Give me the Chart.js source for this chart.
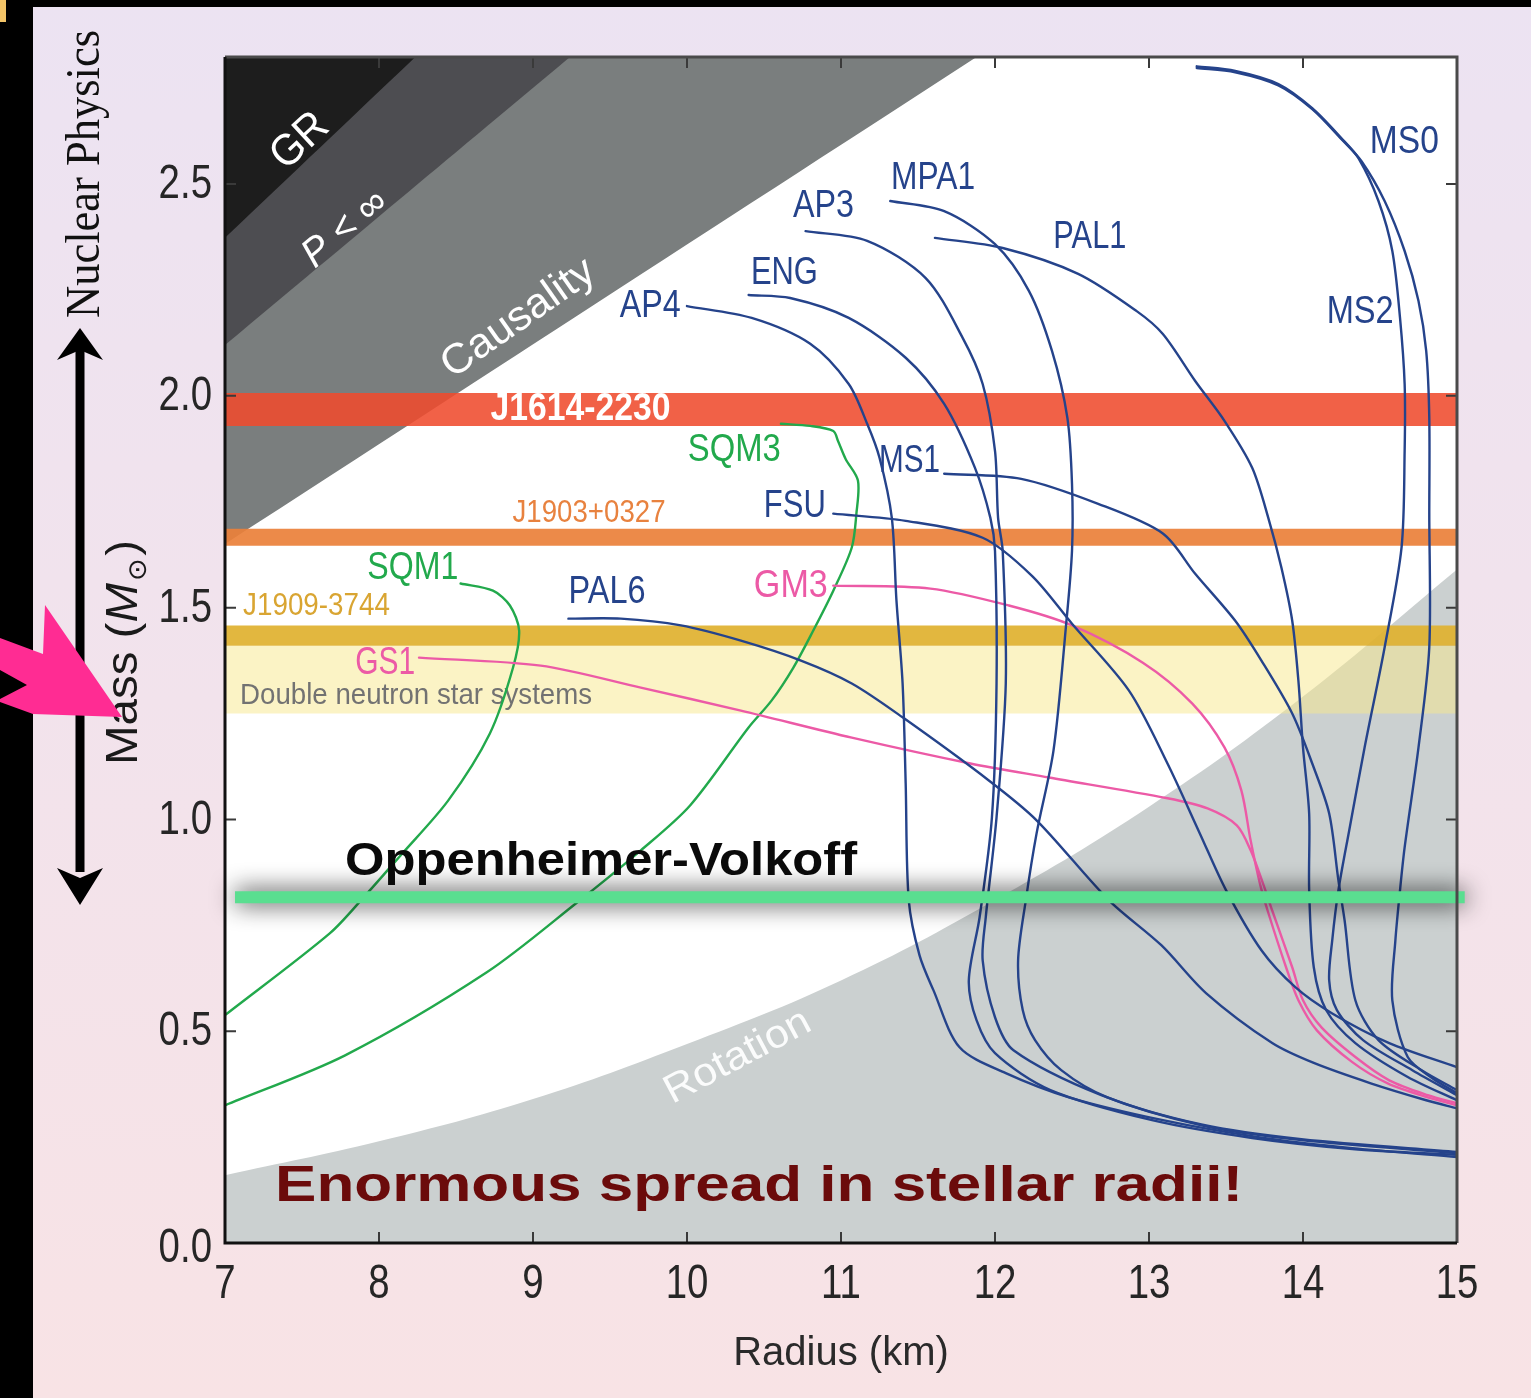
<!DOCTYPE html>
<html><head><meta charset="utf-8">
<script src="https://cdn.jsdelivr.net/npm/chart.js@4.4.1/dist/chart.umd.min.js"></script>
<style>html,body{margin:0;padding:0;background:#f2e3ec;overflow:hidden}canvas{display:block}</style>
</head><body>
<canvas id="c" width="1531" height="1398"></canvas>
<script>
// ---------- axis ticks ----------
const xTicks = [7, 8, 9, 10, 11, 12, 13, 14, 15];
const yTicks = [0, 0.5, 1.0, 1.5, 2.0, 2.5];

// ---------- constraint regions (radius km, mass Msun) ----------
const grLimit = [[7, 2.373], [8.236, 2.8]];
const pressureLimit = [[7, 2.12], [9.24, 2.8]];
const causalityLimit = [[7, 1.65], [11.88, 2.8]];
const rotationR = [7, 8, 9, 10, 11, 12, 13, 14, 15];
const rotationM = [0.16, 0.24, 0.34, 0.47, 0.62, 0.81, 1.03, 1.29, 1.59];

// ---------- pulsar mass bands ----------
const bandNames = ['J1614-2230', 'J1903+0327', 'J1909-3744', 'Double neutron star systems'];
const bandLow  = [1.929, 1.646, 1.410, 1.250];
const bandHigh = [2.007, 1.686, 1.458, 1.410];
const ovMass = 0.816;
const ovRange = [7.065, 15.05];

// ---------- equation-of-state curves [R, M] ----------
const AP4 = [[10.00,2.212],[10.42,2.184],[10.80,2.123],[11.05,2.028],[11.17,1.934],[11.25,1.854],[11.33,1.712],[11.36,1.517],[11.40,1.321],[11.42,1.085],[11.44,0.809],[11.51,0.679],[11.60,0.597],[11.77,0.462],[12.07,0.401],[12.48,0.344],[13.09,0.290],[13.71,0.250],[14.32,0.224],[15.0,0.203]];
const ENG = [[10.40,2.238],[10.67,2.231],[11.05,2.184],[11.42,2.090],[11.67,1.981],[11.87,1.830],[11.97,1.712],[12.00,1.634],[12.01,1.321],[11.98,1.005],[11.90,0.769],[11.83,0.620],[11.88,0.526],[12.00,0.448],[12.36,0.361],[13.02,0.290],[13.67,0.248],[14.32,0.222],[15.0,0.208]];
const AP3 = [[10.77,2.389],[11.17,2.366],[11.55,2.278],[11.79,2.137],[11.92,2.028],[12.00,1.870],[12.02,1.712],[12.05,1.634],[12.07,1.321],[12.01,1.005],[11.94,0.769],[11.92,0.667],[12.00,0.533],[12.12,0.455],[12.69,0.349],[13.34,0.278],[13.99,0.243],[15.0,0.212]];
const MPA1 = [[11.32,2.460],[11.67,2.436],[12.00,2.358],[12.22,2.248],[12.37,2.106],[12.47,1.948],[12.50,1.792],[12.50,1.634],[12.46,1.453],[12.38,1.163],[12.27,0.967],[12.20,0.809],[12.15,0.667],[12.18,0.550],[12.26,0.479],[12.43,0.408],[12.73,0.344],[13.34,0.280],[13.99,0.245],[15.0,0.215]];
const PAL1 = [[11.61,2.373],[12.05,2.349],[12.54,2.288],[12.92,2.200],[13.09,2.146],[13.30,2.035],[13.49,1.941],[13.67,1.830],[13.78,1.705],[13.86,1.594],[13.93,1.469],[13.97,1.328],[14.00,1.170],[14.04,1.014],[14.04,0.833],[14.07,0.651],[14.15,0.550],[14.34,0.472],[14.68,0.392],[15.0,0.337]];
const MS1 = [[11.67,1.816],[12.17,1.804],[12.67,1.745],[13.09,1.675],[13.30,1.580],[13.56,1.469],[13.73,1.375],[13.93,1.250],[14.06,1.132],[14.17,1.014],[14.23,0.856],[14.27,0.762],[14.34,0.573],[14.49,0.479],[14.77,0.408],[15.0,0.361]];
const MS2 = [[13.31,2.778],[13.56,2.767],[13.84,2.736],[14.06,2.679],[14.25,2.608],[14.36,2.561],[14.49,2.460],[14.58,2.342],[14.63,2.184],[14.66,2.028],[14.66,1.870],[14.64,1.642],[14.53,1.406],[14.40,1.170],[14.30,0.974],[14.23,0.833],[14.19,0.715],[14.17,0.620],[14.22,0.550],[14.39,0.479],[14.71,0.408],[15.0,0.349]];
const MS0 = [[13.31,2.774],[13.56,2.764],[13.84,2.733],[14.06,2.677],[14.25,2.606],[14.38,2.554],[14.53,2.460],[14.66,2.342],[14.75,2.224],[14.80,2.106],[14.82,1.948],[14.82,1.722],[14.82,1.406],[14.75,1.170],[14.66,0.934],[14.63,0.833],[14.60,0.715],[14.58,0.573],[14.68,0.439],[14.84,0.389],[15.0,0.354]];
const FSU = [[10.95,1.722],[11.42,1.705],[11.92,1.665],[12.24,1.575],[12.50,1.462],[12.87,1.304],[13.12,1.132],[13.33,0.967],[13.50,0.833],[13.73,0.691],[13.95,0.604],[14.19,0.542],[14.56,0.472],[15.0,0.415]];
const PAL6 = [[9.23,1.474],[9.57,1.474],[9.96,1.458],[10.35,1.422],[10.74,1.375],[11.07,1.321],[11.40,1.241],[11.96,1.092],[12.27,0.998],[12.74,0.809],[13.08,0.703],[13.37,0.590],[13.80,0.472],[14.07,0.425],[14.44,0.377],[14.80,0.337],[15.0,0.318]];
const GM3 = [[10.95,1.552],[11.58,1.545],[12.09,1.505],[12.50,1.458],[12.96,1.370],[13.28,1.274],[13.49,1.170],[13.60,1.068],[13.66,0.950],[13.72,0.849],[13.77,0.785],[13.89,0.651],[13.97,0.573],[14.09,0.502],[14.32,0.427],[14.55,0.377],[14.81,0.344],[15.0,0.325]];
const GS1 = [[8.26,1.382],[9.05,1.363],[9.70,1.311],[10.35,1.257],[11.07,1.193],[11.84,1.132],[12.35,1.099],[13.12,1.050],[13.38,1.026],[13.57,0.986],[13.66,0.927],[13.74,0.849],[13.80,0.785],[13.93,0.651],[14.00,0.573],[14.12,0.509],[14.34,0.439],[14.56,0.384],[14.81,0.349],[15.0,0.330]];
const SQM1 = [[8.53,1.557],[8.74,1.540],[8.85,1.505],[8.91,1.446],[8.87,1.358],[8.72,1.203],[8.45,1.045],[8.14,0.915],[7.90,0.816],[7.68,0.731],[7.0,0.538]];
const SQM3 = [[10.61,1.934],[10.80,1.929],[10.95,1.917],[10.98,1.894],[11.03,1.851],[11.11,1.800],[11.10,1.722],[11.07,1.642],[10.95,1.540],[10.82,1.446],[10.69,1.358],[10.55,1.281],[10.40,1.217],[10.02,1.033],[9.70,0.927],[9.28,0.802],[8.70,0.639],[7.78,0.443],[7.0,0.325]];

const hadronic = {AP4, ENG, AP3, MPA1, PAL1, MS1, MS2, MS0, FSU, PAL6};
const hyperon = {GM3, GS1};
const quark = {SQM1, SQM3};

// ---------- styles ----------
const NAVY = '#25438b', GREEN = '#22a94c', PINK = '#ec5aa6';
const SANS = '"Liberation Sans", Arial, sans-serif';

// label table (anchor in data units, pixel width for fit)
const curveLabels = [
  ['AP4', 9.563, 2.210, 61, NAVY], ['ENG', 10.415, 2.290, 67, NAVY], ['AP3', 10.688, 2.446, 61, NAVY],
  ['MPA1', 11.325, 2.514, 84, NAVY], ['PAL1', 12.379, 2.373, 73, NAVY], ['MS0', 14.434, 2.597, 69, NAVY],
  ['MS2', 14.154, 2.196, 67, NAVY], ['MS1', 11.247, 1.844, 61, NAVY], ['FSU', 10.499, 1.738, 62, NAVY],
  ['PAL6', 9.231, 1.535, 77, NAVY], ['SQM3', 10.005, 1.870, 93, GREEN], ['SQM1', 7.924, 1.592, 91, GREEN],
  ['GM3', 10.434, 1.550, 74, PINK], ['GS1', 7.846, 1.368, 60, PINK]
];

const pts = a => a.map(p => ({x: p[0], y: p[1]}));
const datasets = [];
function curve(arr, color, order) {
  datasets.push({data: pts(arr), borderColor: color, borderWidth: 2.4, pointRadius: 0, tension: 0.3,
    fill: false, order, borderJoinStyle: 'round', borderCapStyle: 'round'});
}
function region(arr, color, fill, order) {
  datasets.push({data: pts(arr), borderColor: 'rgba(0,0,0,0)', borderWidth: 1, pointRadius: 0,
    backgroundColor: color, fill, order, tension: 0.4});
}
region(rotationR.map((r, i) => [r, rotationM[i]]), '#cbd0d0', 'start', 40);
region(causalityLimit, '#7a7e7e', 'end', 39);
region(pressureLimit, '#4d4d51', 'end', 38);
region(grLimit, '#1d1d1d', 'end', 37);
const bandColors = ['rgba(239,75,45,0.88)', 'rgba(234,128,58,0.92)', 'rgba(223,177,47,0.92)', 'rgba(247,231,139,0.5)'];
const bandIdx = [];
for (let i = bandNames.length - 1; i >= 0; i--) {
  bandIdx[i] = datasets.length;
  datasets.push({data: pts([[7, bandHigh[i]], [15, bandHigh[i]]]), borderColor: 'rgba(0,0,0,0)', borderWidth: 1,
    pointRadius: 0, backgroundColor: bandColors[i], fill: {value: bandLow[i]}, order: 30 + i});
}
Object.values(quark).forEach(a => curve(a, GREEN, 12));
Object.values(hyperon).forEach(a => curve(a, PINK, 11));
Object.values(hadronic).forEach(a => curve(a, NAVY, 10));
const ovIdx = datasets.length;
datasets.push({data: pts([[ovRange[0], ovMass], [ovRange[1], ovMass]]), borderColor: '#5ade90', borderWidth: 12,
  pointRadius: 0, fill: false, order: 1, clip: false});

function txt(ctx, s, x, y, o) {
  ctx.save();
  ctx.font = o.font; ctx.fillStyle = o.color;
  ctx.textBaseline = 'middle'; ctx.textAlign = o.align || 'left';
  ctx.translate(x, y);
  if (o.rot) ctx.rotate(o.rot * Math.PI / 180);
  if (o.w) { const m = ctx.measureText(s).width; ctx.scale(o.w / m, 1); }
  else if (o.sx) ctx.scale(o.sx, 1);
  ctx.fillText(s, 0, 0);
  ctx.restore();
}

const deco = {
  id: 'deco',
  beforeDraw(chart) {
    const ctx = chart.ctx, W = chart.width, H = chart.height, a = chart.chartArea;
    const g = ctx.createLinearGradient(0, 0, 0, H);
    g.addColorStop(0, '#ece3f2'); g.addColorStop(0.5, '#f2e3ec'); g.addColorStop(1, '#f8e3e5');
    ctx.fillStyle = g; ctx.fillRect(0, 0, W, H);
    ctx.fillStyle = '#000'; ctx.fillRect(0, 0, 33, H); ctx.fillRect(0, 0, W, 7);
    ctx.fillStyle = '#f3c468'; ctx.fillRect(0, 0, 6, 22);
    ctx.fillStyle = '#ffffff'; ctx.fillRect(a.left, a.top, a.right - a.left, a.bottom - a.top);
  },
  beforeDatasetDraw(chart, args) {
    if (args.index === ovIdx) {
      const ctx = chart.ctx; ctx.save();
      ctx.shadowColor = 'rgba(0,0,0,0.9)'; ctx.shadowBlur = 24; ctx.shadowOffsetY = 0;
    }
  },
  afterDatasetDraw(chart, args) {
    const ctx = chart.ctx, xs = chart.scales.x, ys = chart.scales.y;
    const X = v => xs.getPixelForValue(v), Y = v => ys.getPixelForValue(v);
    if (args.index === ovIdx) { ctx.restore(); return; }
    if (args.index === bandIdx[0]) {
      txt(ctx, 'GR', X(7.488), Y(2.601), {font: '44px ' + SANS, color: '#fff', align: 'center', rot: -43, w: 62});
      txt(ctx, 'P < \u221e', X(7.780), Y(2.394), {font: 'italic 40px ' + SANS, color: '#fff', align: 'center', rot: -40, w: 98});
      txt(ctx, 'Causality', X(8.906), Y(2.182), {font: '42px ' + SANS, color: '#fff', align: 'center', rot: -35, w: 178});
      txt(ctx, 'Rotation', X(10.330), Y(0.439), {font: '40px ' + SANS, color: 'rgba(255,255,255,0.92)', align: 'center', rot: -28, w: 160});
      txt(ctx, bandNames[0], X(8.724), Y(1.967), {font: 'bold 38px ' + SANS, color: '#fff', w: 180});
      txt(ctx, bandNames[1], X(8.867), Y(1.722), {font: '31px ' + SANS, color: '#e8823f', w: 153});
      txt(ctx, bandNames[2], X(7.117), Y(1.502), {font: '31px ' + SANS, color: '#d9a532', w: 147});
      txt(ctx, bandNames[3], X(7.098), Y(1.292), {font: '30px ' + SANS, color: '#727272', w: 352});
    }
  },
  afterDatasetsDraw(chart) {
    const ctx = chart.ctx, xs = chart.scales.x, ys = chart.scales.y;
    const X = v => xs.getPixelForValue(v), Y = v => ys.getPixelForValue(v);
    curveLabels.forEach(l => txt(ctx, l[0], X(l[1]), Y(l[2]), {font: '38px ' + SANS, color: l[4], w: l[3]}));
    txt(ctx, 'Oppenheimer-Volkoff', X(7.780), Y(0.899), {font: 'bold 46px ' + SANS, color: '#0a0a0a', w: 512});
    txt(ctx, 'Enormous spread in stellar radii!', X(7.325), Y(0.132), {font: 'bold 50px ' + SANS, color: '#6b0b0b', w: 968});
  },
  afterDraw(chart) {
    const ctx = chart.ctx, a = chart.chartArea, xs = chart.scales.x, ys = chart.scales.y;
    // condensed tick labels from the library's own ticks
    xs.ticks.forEach(t => txt(ctx, String(t.label), xs.getPixelForValue(t.value), a.bottom + 42,
      {font: '48px ' + SANS, color: '#262626', align: 'center', sx: 0.8}));
    ys.ticks.forEach(t => txt(ctx, String(t.label), a.left - 13, ys.getPixelForValue(t.value) + (t.value === 0 ? 6 : 1),
      {font: '48px ' + SANS, color: '#262626', align: 'right', sx: 0.8}));
    // inward tick marks
    ctx.save(); ctx.strokeStyle = '#3a3a3a'; ctx.lineWidth = 2;
    xTicks.slice(1, -1).forEach(v => { const x = xs.getPixelForValue(v);
      ctx.beginPath(); ctx.moveTo(x, a.bottom); ctx.lineTo(x, a.bottom - 11); ctx.moveTo(x, a.top); ctx.lineTo(x, a.top + 11); ctx.stroke(); });
    yTicks.slice(1).forEach(v => { const y = ys.getPixelForValue(v);
      ctx.beginPath(); ctx.moveTo(a.left, y); ctx.lineTo(a.left + 11, y); ctx.moveTo(a.right, y); ctx.lineTo(a.right - 11, y); ctx.stroke(); });
    // frame
    ctx.lineWidth = 3; ctx.strokeStyle = '#4a4a4a';
    ctx.beginPath(); ctx.moveTo(a.left, a.top); ctx.lineTo(a.right, a.top); ctx.lineTo(a.right, a.bottom); ctx.stroke();
    ctx.strokeStyle = '#111';
    ctx.beginPath(); ctx.moveTo(a.left, a.top); ctx.lineTo(a.left, a.bottom); ctx.lineTo(a.right, a.bottom); ctx.stroke();
    ctx.restore();
    // Nuclear Physics
    txt(ctx, 'Nuclear Physics', 86, 174, {font: '48px "Liberation Serif", "Times New Roman", serif', color: '#111', align: 'center', rot: -90, w: 288});
    // double arrow
    ctx.save(); ctx.fillStyle = '#000';
    ctx.fillRect(75.5, 350, 9, 522);
    ctx.beginPath(); ctx.moveTo(80, 328); ctx.lineTo(103, 360); ctx.lineTo(80, 350); ctx.lineTo(57, 360); ctx.closePath(); ctx.fill();
    ctx.beginPath(); ctx.moveTo(80, 905); ctx.lineTo(103, 868); ctx.lineTo(80, 878); ctx.lineTo(57, 868); ctx.closePath(); ctx.fill();
    ctx.restore();
    // Mass (M_sun) axis title
    ctx.save(); ctx.translate(137, 765); ctx.rotate(-Math.PI / 2); ctx.fillStyle = '#1a1a1a'; ctx.textBaseline = 'alphabetic';
    const parts = [['Mass (', '45px ' + SANS, 0, 0], ['M', 'italic 45px ' + SANS, 0, 2], ['\u2299', '26px "DejaVu Sans", sans-serif', 9, 2], [')', '45px ' + SANS, 0, 0]];
    let tot = 0; parts.forEach(p => { ctx.font = p[1]; tot += ctx.measureText(p[0]).width + p[3]; });
    ctx.scale(225 / tot, 1);
    let x = 0;
    parts.forEach(p => { ctx.font = p[1]; ctx.fillText(p[0], x, p[2]); x += ctx.measureText(p[0]).width + p[3]; });
    ctx.restore();
    // pink pointer
    ctx.save(); ctx.fillStyle = '#ff2c93';
    ctx.beginPath(); ctx.moveTo(0, 638); ctx.lineTo(43, 654); ctx.lineTo(45, 605); ctx.lineTo(122, 717); ctx.lineTo(33, 714);
    ctx.lineTo(0, 702); ctx.lineTo(0, 699); ctx.lineTo(27, 685); ctx.lineTo(0, 670); ctx.closePath(); ctx.fill();
    ctx.restore();
  }
};

new Chart(document.getElementById('c'), {
  type: 'line',
  data: {datasets},
  options: {
    responsive: false, animation: false, devicePixelRatio: 1,
    layout: {padding: {top: 57, right: 74, left: 0, bottom: 20}},
    plugins: {legend: {display: false}, tooltip: {enabled: false}},
    scales: {
      x: {type: 'linear', min: 7, max: 15,
        afterBuildTicks: s => { s.ticks = xTicks.map(v => ({value: v})); },
        afterFit: s => { s.height = 135; },
        grid: {display: false, drawTicks: false}, border: {display: false},
        ticks: {display: false, autoSkip: false},
        title: {display: true, text: 'Radius (km)', font: {family: SANS, size: 40}, color: '#2a2a2a', padding: 0}},
      y: {type: 'linear', min: 0, max: 2.8,
        afterBuildTicks: s => { s.ticks = yTicks.map(v => ({value: v})); },
        afterFit: s => { s.width = 225; },
        grid: {display: false, drawTicks: false}, border: {display: false},
        ticks: {display: false, callback: v => v.toFixed(1)}}
    }
  },
  plugins: [deco]
});
</script></body></html>
